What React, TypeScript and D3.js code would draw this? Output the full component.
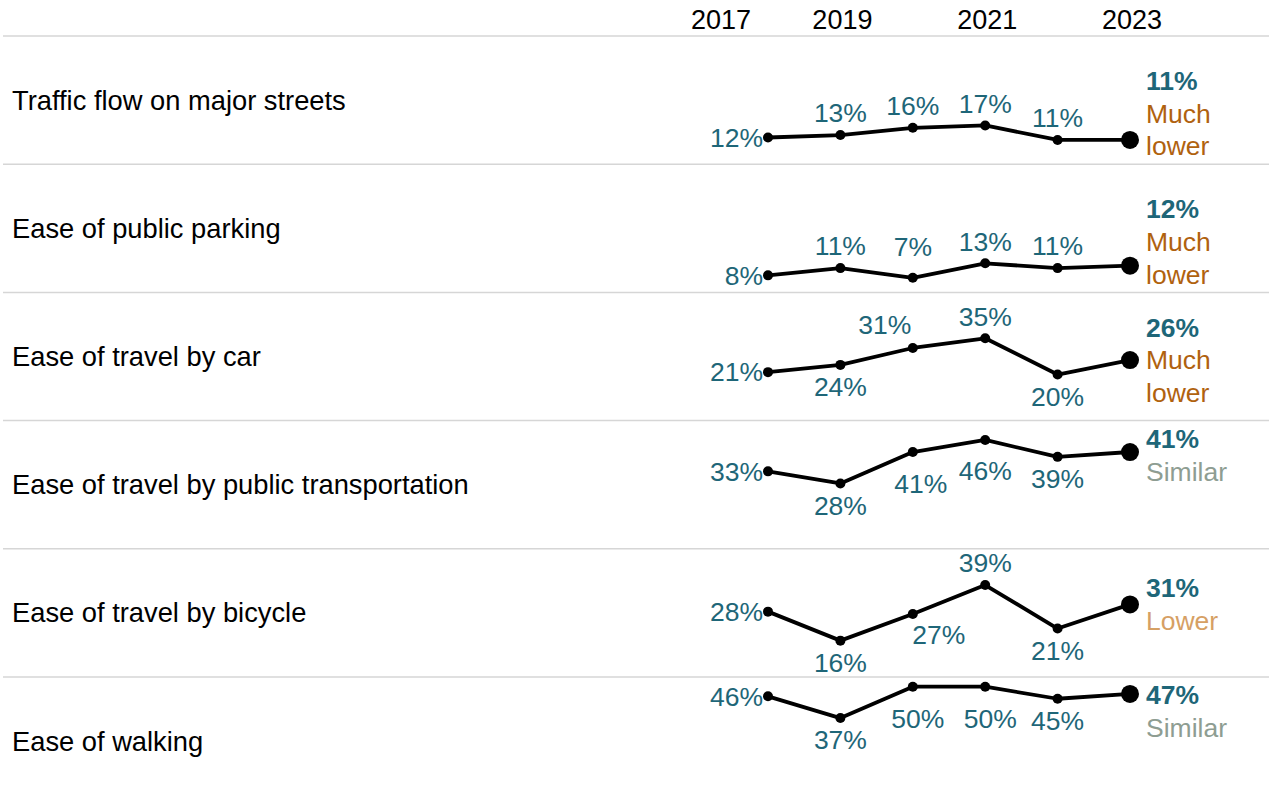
import { useEffect, useRef } from 'react';
import * as d3 from 'd3';

const years = [2017, 2019, 2020, 2021, 2022, 2023];
const headerYears = [2017, 2019, 2021, 2023];

const rowLabels = [
  'Traffic flow on major streets',
  'Ease of public parking',
  'Ease of travel by car',
  'Ease of travel by public transportation',
  'Ease of travel by bicycle',
  'Ease of walking',
];

const traffic = [12, 13, 16, 17, 11, 11];
const parking = [8, 11, 7, 13, 11, 12];
const car = [21, 24, 31, 35, 20, 26];
const transit = [33, 28, 41, 46, 39, 41];
const bicycle = [28, 16, 27, 39, 21, 31];
const walking = [46, 37, 50, 50, 45, 47];

const comparisons = ['Much lower', 'Much lower', 'Much lower', 'Similar', 'Lower', 'Similar'];

// where the middle value labels sit (first is always left, last goes to the side block)
const labelLayout = [
  ['a', 'a', 'a', 'a'],
  ['a', 'A', 'a', 'a'],
  ['b', 'al', 'a', 'b'],
  ['b', 'Br', 'B', 'b'],
  ['b', 'br', 'a', 'b'],
  ['b', 'Bs', 'Bs', 'b'],
];

const series = [traffic, parking, car, transit, bicycle, walking];

const offsets: Record<string, [number, number]> = {
  a: [0, -22],
  A: [0, -31],
  b: [0, 22],
  B: [0, 31],
  al: [-28, -23],
  Br: [8, 32],
  br: [26, 21],
  Bs: [5, 32],
};

const compColor: Record<string, string> = {
  'Much lower': '#b0620f',
  Lower: '#d6a064',
  Similar: '#8e9d92',
};

const WIDTH = 1269;
const HEIGHT = 801;
const TEAL = '#1e6678';
const FONT = '"Liberation Sans", Arial, Helvetica, sans-serif';

export default function App() {
  const svgRef = useRef<SVGSVGElement>(null);

  useEffect(() => {
    if (!svgRef.current) return;
    const svg = d3.select(svgRef.current);
    svg.selectAll('*').remove();

    const top = 36;
    const rowH = 128.2;

    const x = d3.scalePoint<number>().domain(years).range([768, 1130]);
    const y = d3.scaleLinear().domain([0, 54]).range([130.5, 0]);

    // header years
    svg.append('g')
      .selectAll('text')
      .data(headerYears)
      .join('text')
      .attr('x', d => (d === 2017 ? x(d)! - 17 : x(d)! + 2))
      .attr('y', 29)
      .attr('text-anchor', d => (d === 2017 ? 'end' : 'middle'))
      .attr('font-family', FONT)
      .attr('font-size', 27)
      .attr('fill', '#000')
      .text(d => d);

    // separators
    svg.append('g')
      .selectAll('line')
      .data(rowLabels)
      .join('line')
      .attr('x1', 3)
      .attr('x2', WIDTH)
      .attr('y1', (_, i) => top + i * rowH)
      .attr('y2', (_, i) => top + i * rowH)
      .attr('stroke', '#d6d6d6')
      .attr('stroke-width', 1.5);

    const line = d3.line<number>()
      .x((_, i) => x(years[i])!)
      .y(d => y(d));

    series.forEach((vals, r) => {
      const rowTop = top + r * rowH;
      const g = svg.append('g').attr('transform', `translate(0,${rowTop})`);

      g.append('text')
        .attr('x', 12)
        .attr('y', rowH / 2)
        .attr('dy', '0.35em')
        .attr('font-family', FONT)
        .attr('font-size', 27.3)
        .attr('fill', '#000')
        .text(rowLabels[r]);

      g.append('path')
        .datum(vals)
        .attr('fill', 'none')
        .attr('stroke', '#000')
        .attr('stroke-width', 3.8)
        .attr('stroke-linejoin', 'round')
        .attr('d', line);

      g.selectAll('circle')
        .data(vals)
        .join('circle')
        .attr('cx', (_, i) => x(years[i])!)
        .attr('cy', d => y(d))
        .attr('r', (_, i) => (i === vals.length - 1 ? 9 : 5))
        .attr('fill', '#000');

      // value labels
      vals.slice(0, -1).forEach((v, i) => {
        const px = x(years[i])!;
        const py = y(v);
        const t = g.append('text')
          .attr('font-family', FONT)
          .attr('font-size', 26.5)
          .attr('fill', TEAL)
          .attr('dy', '0.35em')
          .text(`${v}%`);
        if (i === 0) {
          t.attr('x', px - 5).attr('y', py).attr('text-anchor', 'end');
        } else {
          const [dx, dy] = offsets[labelLayout[r][i - 1]];
          t.attr('x', px + dx).attr('y', py + dy).attr('text-anchor', 'middle');
        }
      });

      // final value + comparison block
      const last = vals[vals.length - 1];
      const comp = comparisons[r];
      const lines = [{ text: `${last}%`, bold: true, color: TEAL }]
        .concat(comp === 'Much lower'
          ? comp.split(' ').map(s => ({ text: s, bold: false, color: compColor[comp] }))
          : [{ text: comp, bold: false, color: compColor[comp] }]);
      const lh = 32.7;
      const py = y(last);
      let first = py - ((lines.length - 1) * lh) / 2;
      first = Math.max(first, 18);
      const lastLine = first + (lines.length - 1) * lh;
      if (lastLine > rowH - 18) first -= lastLine - (rowH - 18);

      g.selectAll('text.side')
        .data(lines)
        .join('text')
        .attr('class', 'side')
        .attr('x', 1146)
        .attr('y', (_, i) => first + i * lh)
        .attr('dy', '0.35em')
        .attr('font-family', FONT)
        .attr('font-size', 26.5)
        .attr('font-weight', d => (d.bold ? 'bold' : 'normal'))
        .attr('fill', d => d.color)
        .text(d => d.text);
    });
  }, []);

  return (
    <div style={{ position: 'absolute', left: 0, top: 0, width: WIDTH, height: HEIGHT, background: '#fff' }}>
      <svg ref={svgRef} width={WIDTH} height={HEIGHT} style={{ display: 'block' }} />
    </div>
  );
}
